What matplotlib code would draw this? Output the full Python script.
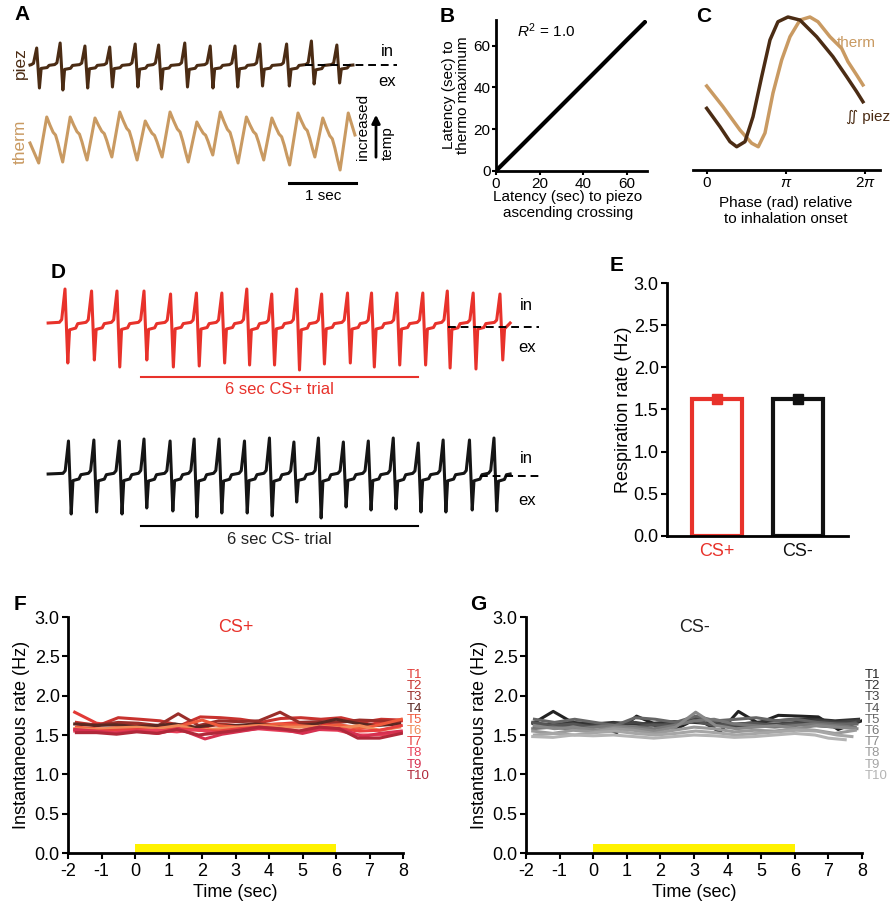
import numpy as np
import matplotlib
matplotlib.use("Agg")
import matplotlib.pyplot as plt
from matplotlib.patches import FancyArrowPatch

plt.rcParams['font.family'] = ['Liberation Sans', 'DejaVu Sans']
plt.rcParams['axes.unicode_minus'] = False
plt.rcParams['mathtext.fontset'] = 'custom'
plt.rcParams['mathtext.rm'] = 'Liberation Sans'
plt.rcParams['mathtext.it'] = 'Liberation Sans:italic'

# ---- A: raw piezo / thermocouple traces (time in sec, amplitude arbitrary) ----
a_piez_peak_t = [0.10, 0.45, 0.82, 1.19, 1.57, 1.92, 2.31, 2.69, 3.06, 3.43, 3.83, 4.20, 4.58]
a_piez_peak = [17, 22, 19, 18, 21, 20, 22, 19, 19, 21, 21, 24, 20]
a_piez_trough = [-23, -25, -23, -22, -22, -24, -22, -23, -22, -21, -21, -19, -18]
a_therm_peak_t = [0.25, 0.60, 0.97, 1.34, 1.72, 2.09, 2.49, 2.84, 3.23, 3.61, 4.00, 4.37, 4.75]
a_therm_peak = [58, 58, 57, 63, 54, 63, 53, 63, 58, 57, 62, 57, 62]
a_therm_trough = [12, 13, 15, 18, 15, 18, 13, 20, 12, 15, 10, 18, 5]

# ---- B: latency regression ----
b_piezo_lat = [0.5, 12, 24, 36, 48, 60, 69]
b_thermo_lat = [0.6, 12.5, 25.0, 37.5, 50.0, 62.6, 71.9]

# ---- C: phase averaged waveforms ----
c_phase = [0.0, 0.527, 0.923, 1.188, 1.517, 1.834, 2.178, 2.507, 2.823, 3.219, 3.695, 4.356, 5.0, 5.544, 5.94, 6.19]
c_piez = [0.403, 0.283, 0.185, 0.152, 0.185, 0.348, 0.610, 0.850, 0.969, 1.0, 0.980, 0.871, 0.741, 0.610, 0.512, 0.446]
c_phase_th = [0.0, 0.645, 1.319, 1.782, 2.043, 2.309, 2.626, 2.97, 3.299, 3.695, 4.09, 4.408, 4.883, 5.346, 5.596, 5.94, 6.19]
c_therm = [0.549, 0.414, 0.261, 0.175, 0.152, 0.242, 0.503, 0.719, 0.871, 0.980, 1.0, 0.969, 0.871, 0.795, 0.708, 0.621, 0.556]

# ---- D: example CS+ / CS- piezo traces (time relative to CS onset) ----
d_plus_peak_t = [-1.645, -1.07, -0.52, 0.065, 0.64, 1.2, 1.75, 2.29, 2.83, 3.37, 3.91, 4.47, 4.99, 5.54, 6.1, 6.63, 7.19, 7.77]
d_plus_peak = [34, 32, 32, 32, 29, 30, 30, 34, 29, 34, 29, 30, 30, 30, 30, 32, 30, 29]
d_plus_trough = [-40, -37, -44, -37, -44, -43, -40, -42, -42, -47, -41, -40, -44, -42, -42, -45, -46, -37]
d_minus_peak_t = [-1.57, -1.02, -0.47, 0.065, 0.63, 1.15, 1.69, 2.24, 2.78, 3.31, 3.84, 4.38, 4.92, 5.46, 6.0, 6.54, 7.11, 7.64]
d_minus_peak = [33, 34, 33, 35, 33, 35, 35, 33, 36, 32, 36, 32, 33, 36, 31, 34, 34, 36]
d_minus_trough = [-40, -38, -40, -34, -37, -43, -39, -39, -42, -28, -44, -33, -36, -35, -38, -38, -36, -37]

# ---- E: mean respiration rate ----
e_labels = ['CS+', 'CS-']
e_rates = [1.63, 1.62]
e_sem = [0.03, 0.03]

# ---- F / G: instantaneous rate per trial ----
f_times = [
    [-1.8, -1.15, -0.55, 0.1, 0.7, 1.3, 1.9, 2.5, 3.1, 3.7, 4.3, 4.9, 5.5, 6.1, 6.7, 7.3, 7.95],
    [-1.75, -1.1, -0.5, 0.15, 0.75, 1.35, 1.95, 2.55, 3.15, 3.75, 4.35, 4.95, 5.55, 6.15, 6.75, 7.35, 7.95],
    [-1.7, -1.1, -0.5, 0.1, 0.7, 1.29, 1.9, 2.5, 3.1, 3.7, 4.33, 4.9, 5.5, 6.1, 6.7, 7.3, 7.9],
    [-1.8, -1.2, -0.6, 0.0, 0.6, 1.2, 1.8, 2.4, 3.0, 3.6, 4.2, 4.8, 5.4, 6.0, 6.6, 7.2, 7.9],
    [-1.75, -1.15, -0.55, 0.05, 0.65, 1.25, 2.0, 2.5, 3.1, 3.7, 4.3, 4.9, 5.5, 6.1, 6.7, 7.3, 7.95],
    [-1.8, -1.2, -0.6, 0.05, 0.65, 1.3, 1.9, 2.5, 3.1, 3.7, 4.3, 4.9, 5.5, 6.1, 6.7, 7.3, 7.9],
    [-1.75, -1.15, -0.5, 0.1, 0.7, 1.3, 1.9, 2.5, 3.1, 3.7, 4.3, 4.9, 5.5, 6.1, 6.7, 7.3, 7.95],
    [-1.8, -1.2, -0.6, 0.0, 0.65, 1.25, 1.85, 2.45, 3.05, 3.65, 4.25, 4.85, 5.45, 6.05, 6.65, 7.3, 7.95],
    [-1.8, -1.2, -0.6, 0.05, 0.7, 1.3, 2.09, 2.6, 3.2, 3.8, 4.4, 5.0, 5.6, 6.2, 6.8, 7.3, 7.95],
    [-1.75, -1.15, -0.55, 0.05, 0.65, 1.25, 1.9, 2.5, 3.1, 3.7, 4.3, 4.9, 5.5, 6.1, 6.65, 7.3, 7.95],
]
f_rates = [
    [1.79, 1.65, 1.62, 1.63, 1.60, 1.63, 1.58, 1.64, 1.62, 1.63, 1.64, 1.66, 1.65, 1.62, 1.60, 1.66, 1.68],
    [1.66, 1.62, 1.72, 1.70, 1.68, 1.62, 1.73, 1.72, 1.70, 1.66, 1.71, 1.72, 1.70, 1.72, 1.66, 1.70, 1.69],
    [1.64, 1.63, 1.66, 1.65, 1.62, 1.77, 1.62, 1.68, 1.67, 1.68, 1.79, 1.66, 1.67, 1.66, 1.69, 1.68, 1.67],
    [1.64, 1.62, 1.63, 1.61, 1.62, 1.64, 1.60, 1.63, 1.62, 1.64, 1.63, 1.62, 1.64, 1.70, 1.65, 1.62, 1.64],
    [1.60, 1.58, 1.57, 1.59, 1.56, 1.60, 1.69, 1.62, 1.60, 1.62, 1.64, 1.62, 1.60, 1.63, 1.58, 1.63, 1.70],
    [1.58, 1.57, 1.59, 1.60, 1.58, 1.62, 1.56, 1.58, 1.60, 1.62, 1.60, 1.60, 1.61, 1.59, 1.62, 1.56, 1.60],
    [1.56, 1.55, 1.56, 1.57, 1.55, 1.58, 1.56, 1.55, 1.58, 1.60, 1.58, 1.55, 1.60, 1.58, 1.55, 1.56, 1.62],
    [1.55, 1.54, 1.53, 1.55, 1.56, 1.54, 1.57, 1.52, 1.55, 1.58, 1.56, 1.54, 1.57, 1.56, 1.50, 1.50, 1.53],
    [1.57, 1.55, 1.52, 1.55, 1.52, 1.58, 1.45, 1.51, 1.55, 1.59, 1.57, 1.52, 1.58, 1.57, 1.48, 1.52, 1.55],
    [1.53, 1.53, 1.51, 1.54, 1.52, 1.57, 1.50, 1.53, 1.56, 1.60, 1.58, 1.55, 1.60, 1.58, 1.46, 1.46, 1.52],
]
g_times = [
    [-1.78, -1.19, -0.54, 0.05, 0.70, 1.29, 1.89, 2.49, 3.08, 3.77, 4.32, 4.91, 5.51, 6.15, 6.70, 7.29, 7.99],
    [-1.8, -1.2, -0.6, 0.0, 0.6, 1.2, 1.8, 2.4, 3.0, 3.6, 4.2, 4.8, 5.4, 6.0, 6.6, 7.2, 7.9],
    [-1.75, -1.15, -0.55, 0.05, 0.65, 1.25, 1.85, 2.45, 3.05, 3.65, 4.25, 4.85, 5.45, 6.05, 6.65, 7.25, 7.9],
    [-1.8, -1.2, -0.6, 0.0, 0.6, 1.2, 1.8, 2.4, 3.0, 3.6, 4.2, 4.8, 5.4, 6.0, 6.6, 7.2, 7.8],
    [-1.75, -1.15, -0.55, 0.05, 0.65, 1.25, 1.85, 2.45, 3.05, 3.65, 4.25, 4.85, 5.45, 6.05, 6.65, 7.25, 7.85],
    [-1.8, -1.2, -0.6, 0.0, 0.6, 1.2, 1.8, 2.4, 3.0, 3.6, 4.2, 4.8, 5.4, 6.0, 6.6, 7.2, 7.8],
    [-1.75, -1.15, -0.55, 0.05, 0.65, 1.25, 1.85, 2.45, 3.05, 3.65, 4.25, 4.85, 5.45, 6.05, 6.65, 7.25, 7.85],
    [-1.8, -1.2, -0.6, 0.0, 0.6, 1.2, 1.8, 2.4, 3.0, 3.6, 4.2, 4.8, 5.4, 6.0, 6.6, 7.2, 7.8],
    [-1.75, -1.15, -0.55, 0.05, 0.65, 1.25, 1.85, 2.45, 3.05, 3.65, 4.25, 4.85, 5.45, 6.05, 6.65, 7.25, 7.7],
    [-1.8, -1.2, -0.6, 0.0, 0.6, 1.2, 1.8, 2.4, 3.0, 3.6, 4.2, 4.8, 5.4, 6.0, 6.6, 7.0, 7.5],
]
g_rates = [
    [1.65, 1.80, 1.64, 1.63, 1.53, 1.74, 1.63, 1.58, 1.71, 1.54, 1.80, 1.65, 1.75, 1.74, 1.73, 1.57, 1.68],
    [1.65, 1.63, 1.66, 1.64, 1.66, 1.64, 1.65, 1.67, 1.66, 1.64, 1.63, 1.66, 1.68, 1.70, 1.70, 1.68, 1.70],
    [1.60, 1.62, 1.60, 1.62, 1.64, 1.66, 1.62, 1.64, 1.72, 1.66, 1.60, 1.62, 1.64, 1.66, 1.68, 1.66, 1.68],
    [1.66, 1.62, 1.64, 1.60, 1.62, 1.60, 1.63, 1.62, 1.68, 1.62, 1.64, 1.65, 1.62, 1.64, 1.62, 1.60, 1.66],
    [1.70, 1.66, 1.70, 1.66, 1.62, 1.72, 1.70, 1.66, 1.74, 1.68, 1.70, 1.72, 1.68, 1.70, 1.66, 1.64, 1.64],
    [1.58, 1.60, 1.57, 1.60, 1.62, 1.60, 1.58, 1.62, 1.68, 1.70, 1.64, 1.62, 1.60, 1.62, 1.64, 1.62, 1.60],
    [1.62, 1.58, 1.60, 1.56, 1.60, 1.58, 1.55, 1.60, 1.79, 1.62, 1.58, 1.60, 1.62, 1.58, 1.62, 1.60, 1.58],
    [1.55, 1.52, 1.56, 1.54, 1.58, 1.56, 1.52, 1.56, 1.60, 1.58, 1.54, 1.56, 1.55, 1.58, 1.56, 1.52, 1.56],
    [1.50, 1.52, 1.50, 1.53, 1.55, 1.52, 1.50, 1.52, 1.55, 1.53, 1.50, 1.52, 1.54, 1.56, 1.55, 1.50, 1.48],
    [1.48, 1.47, 1.50, 1.49, 1.50, 1.48, 1.46, 1.48, 1.50, 1.49, 1.47, 1.48, 1.50, 1.52, 1.50, 1.46, 1.44],
]
trial_labels = ['T%d' % (i + 1) for i in range(10)]
f_colors = ['#e23a36', '#c8332f', '#9a2e2a', '#5a2822', '#ef5a3c', '#f08a58',
            '#e8403e', '#e8405a', '#d63050', '#b0283a']
g_colors = ['#222222', '#333333', '#444444', '#555555', '#666666', '#777777',
            '#888888', '#999999', '#a6a6a6', '#b4b4b4']

BROWN = '#4b2c14'
TAN = '#c99a62'
RED = '#e8322b'

W, H = 893, 905
fig = plt.figure(figsize=(W / 100, H / 100), dpi=100)


def axp(x0, y0, x1, y1):
    # axes from pixel box (top-left origin)
    return fig.add_axes([x0 / W, 1 - y1 / H, (x1 - x0) / W, (y1 - y0) / H])


def fp(x, y):
    return (x / W, 1 - y / H)


# cycle shape of the piezo signal (fraction of breath period, fraction of peak)
PRE = [(0.22, 0.02), (0.13, 0.10)]
POST = [(0.11, None), (0.18, -0.20), (0.42, -0.15), (0.50, -0.02)]


def piezo_trace(peak_t, peak_h, trough_v, t0, t1):
    period = np.median(np.diff(peak_t))
    ts, vs = [t0], [0.0]
    for tp, h, d in zip(peak_t, peak_h, trough_v):
        for f, r in PRE:
            t = tp - f * period
            if t > ts[-1]:
                ts.append(t); vs.append(r * h)
        ts.append(tp); vs.append(h)
        for f, r in POST:
            t = tp + f * period
            if t < t1:
                ts.append(t); vs.append(d if r is None else r * h)
    ts.append(t1); vs.append(0.0)
    return ts, vs


DECAY = [(0.2, 0.82), (0.4, 0.66), (0.55, 0.6), (0.7, 0.42), (0.85, 0.2)]


def therm_trace(peak_t, peak_v, trough_v, t0, v0, t1, v1):
    period = np.median(np.diff(peak_t))
    ts, vs = [t0, peak_t[0] - 0.32 * period], [v0, trough_v[0]]
    for i, tp in enumerate(peak_t):
        ts.append(tp); vs.append(peak_v[i])
        if i + 1 < len(peak_t):
            tt = tp + 0.68 * (peak_t[i + 1] - tp)
            top, bot = peak_v[i], trough_v[i + 1]
            for f, r in DECAY:
                ts.append(tp + f * (tt - tp)); vs.append(bot + r * (top - bot))
            ts.append(tt); vs.append(bot)
    ts.append(t1); vs.append(v1)
    return ts, vs


def panel_letter(x, y, s):
    fig.text(*fp(x, y), s, fontsize=15, fontweight='bold', ha='center', va='center')


# ------------------------- A -------------------------
axA1 = axp(20, 35, 400, 95)
axA1.set_xlim(-10 / 67, 370 / 67)
axA1.set_ylim(-30, 30)
axA1.axis('off')
t, v = piezo_trace(a_piez_peak_t, a_piez_peak, a_piez_trough, 0.0, 4.82)
axA1.plot(t, v, color=BROWN, lw=2.2)
axA1.plot([4.10, 5.48], [0, 0], '--', color='k', lw=1.4, dashes=(4, 2.5))
axA1.text(5.33, 13, 'in', fontsize=12, ha='center', va='center')
axA1.text(5.33, -16, 'ex', fontsize=12, ha='center', va='center')

axA2 = axp(20, 105, 400, 205)
axA2.set_xlim(-10 / 67, 370 / 67)
axA2.set_ylim(-30, 70)
axA2.axis('off')
t, v = therm_trace(a_therm_peak_t, a_therm_peak, a_therm_trough, 0.0, 32, 4.85, 40)
axA2.plot(t, v, color=TAN, lw=2.2)
axA2.plot([3.87, 4.87], [-8, -8], color='k', lw=2.2)
axA2.text(4.37, -21, '1 sec', fontsize=11, ha='center', va='center')

fig.text(*fp(20, 63), 'piez', color=BROWN, rotation=90, fontsize=12.5, ha='center', va='center')
fig.text(*fp(20, 142), 'therm', color=TAN, rotation=90, fontsize=12.5, ha='center', va='center')
fig.text(*fp(363, 160), 'increased', rotation=90, fontsize=11, ha='center', va='bottom')
fig.text(*fp(388, 160), 'temp', rotation=90, fontsize=11, ha='center', va='bottom')
fig.add_artist(FancyArrowPatch(fp(376, 160), fp(376, 112), transform=fig.transFigure,
                               arrowstyle='-|>', mutation_scale=12, lw=2, color='k'))
panel_letter(22, 15, 'A')

# ------------------------- B -------------------------
axB = axp(496, 20, 647, 171)
axB.plot(b_piezo_lat, b_thermo_lat, color='k', lw=3, solid_capstyle='butt')
axB.set_xlim(0, 69.3)
axB.set_ylim(0, 72.2)
axB.set_xticks([0, 20, 40, 60])
axB.set_yticks([0, 20, 40, 60])
for s in ['top', 'right']:
    axB.spines[s].set_visible(False)
for s in ['left', 'bottom']:
    axB.spines[s].set_linewidth(2)
axB.tick_params(direction='out', length=3, width=1.5, labelsize=11, pad=1)
axB.text(0.33, 0.93, r'$R^2$ = 1.0', transform=axB.transAxes, fontsize=11, ha='center', va='center')
fig.text(*fp(456, 95), 'Latency (sec) to\nthermo maximum', rotation=90, fontsize=11,
         ha='center', va='center', linespacing=1.05)
fig.text(*fp(568, 205), 'Latency (sec) to piezo\nascending crossing', fontsize=11,
         ha='center', va='center', linespacing=1.15)
panel_letter(447, 17, 'B')

# ------------------------- C -------------------------
ppr = 79.3 / np.pi
axC = axp(693, 10, 880, 170)
axC.plot(c_phase_th, c_therm, color=TAN, lw=2.5)
axC.plot(c_phase, c_piez, color=BROWN, lw=2.5)
axC.set_xlim((693 - 706.7) / ppr, (880 - 706.7) / ppr)
axC.set_ylim(0, 160 / 153)
for s in ['top', 'right', 'left']:
    axC.spines[s].set_visible(False)
axC.spines['bottom'].set_linewidth(2)
axC.set_yticks([])
axC.set_xticks([0, np.pi, 2 * np.pi])
axC.set_xticklabels(['0', r'$\pi$', r'2$\pi$'])
axC.tick_params(direction='out', length=3, width=1.5, labelsize=11, pad=1)
fig.text(*fp(786, 211), 'Phase (rad) relative\nto inhalation onset', fontsize=11,
         ha='center', va='center', linespacing=1.15)
fig.text(*fp(856, 43), 'therm', color=TAN, fontsize=11, ha='center', va='center')
fig.text(*fp(868, 117), '\u222c piez', color=BROWN, fontsize=11, ha='center', va='center')
panel_letter(704, 17, 'C')

# ------------------------- D -------------------------
dx0, dx1 = (40 - 141) / 46.2, (560 - 141) / 46.2
axD1 = axp(40, 280, 560, 400)
axD1.set_xlim(dx0, dx1)
axD1.set_ylim(-77, 43)
axD1.axis('off')
t, v = piezo_trace(d_plus_peak_t, d_plus_peak, d_plus_trough, -2.01, 7.99)
axD1.plot(t, v, color=RED, lw=2.2)
axD1.plot([0, 6], [-54, -54], color=RED, lw=1.5)
axD1.text(3, -67, '6 sec CS+ trial', color=RED, fontsize=12, ha='center', va='center')
axD1.plot([6.65, 8.62], [-4, -4], '--', color='k', lw=1.4, dashes=(4, 2.5))
axD1.text(8.35, 18, 'in', fontsize=12, ha='center', va='center')
axD1.text(8.35, -25, 'ex', fontsize=12, ha='center', va='center')

axD2 = axp(40, 430, 560, 550)
axD2.set_xlim(dx0, dx1)
axD2.set_ylim(-76, 44)
axD2.axis('off')
t, v = piezo_trace(d_minus_peak_t, d_minus_peak, d_minus_trough, -2.01, 7.99)
axD2.plot(t, v, color='#151515', lw=2.2)
axD2.plot([0, 6], [-52, -52], color='k', lw=1.5)
axD2.text(3, -65, '6 sec CS- trial', color='#222222', fontsize=12, ha='center', va='center')
axD2.plot([7.34, 8.62], [-2, -2], '--', color='k', lw=1.4, dashes=(4, 2.5))
axD2.text(8.35, 16, 'in', fontsize=12, ha='center', va='center')
axD2.text(8.35, -26, 'ex', fontsize=12, ha='center', va='center')
panel_letter(58, 272, 'D')


def style_axes(ax):
    for s in ['top', 'right']:
        ax.spines[s].set_visible(False)
    for s in ['left', 'bottom']:
        ax.spines[s].set_linewidth(2)
    ax.tick_params(direction='out', length=4, width=1.5, labelsize=13, pad=2)


# ------------------------- E -------------------------
axE = axp(667, 283, 848, 536)
e_cols = [RED, '#111111']
xs = np.arange(len(e_labels))
axE.bar(xs, e_rates, width=0.62, fill=False, edgecolor=e_cols, linewidth=3)
for x, r, s, c in zip(xs, e_rates, e_sem, e_cols):
    axE.errorbar(x, r, yerr=s, fmt='s', ms=6.5, color=c, elinewidth=2.5, capsize=0)
axE.set_xlim(-0.62, 1.62)
axE.set_ylim(0, 3.0)
axE.set_yticks(np.arange(0, 3.01, 0.5))
axE.set_xticks(xs)
axE.set_xticklabels(e_labels)
style_axes(axE)
axE.tick_params(axis='x', length=0, pad=5)
for lab, c in zip(axE.get_xticklabels(), e_cols):
    lab.set_color(c)
fig.text(*fp(623, 410), 'Respiration rate (Hz)', rotation=90, fontsize=13, ha='center', va='center')
panel_letter(617, 265, 'E')


# ------------------------- F / G -------------------------
def rate_panel(ax, times, rates, colors, title, title_color, lab_x, ylab_x):
    ax.bar(3, 0.12, width=6, bottom=0, color='#fff200', edgecolor='none', zorder=1)
    for tt, rr, c in zip(times, rates, colors):
        ax.plot(tt, rr, color=c, lw=2.2, zorder=2)
    ax.set_xlim(-2, 8)
    ax.set_ylim(0, 3.0)
    ax.set_xticks(range(-2, 9))
    ax.set_yticks(np.arange(0, 3.01, 0.5))
    style_axes(ax)
    ax.tick_params(axis='x', pad=3)
    ax.text(0.5, 0.955, title, transform=ax.transAxes, color=title_color, fontsize=13,
            ha='center', va='center')
    x_mid = (ax.get_position().x0 + ax.get_position().x1) / 2
    fig.text(x_mid, fp(0, 892)[1], 'Time (sec)', fontsize=13, ha='center', va='center')
    fig.text(*fp(ylab_x, 735), 'Instantaneous rate (Hz)', rotation=90, fontsize=13,
             ha='center', va='center')
    for i, (lab, c) in enumerate(zip(trial_labels, colors)):
        fig.text(*fp(lab_x, 675 + i * 11.2), lab, color=c, fontsize=9.5, ha='left', va='center')


axF = axp(68, 617, 403, 853)
rate_panel(axF, f_times, f_rates, f_colors, 'CS+', RED, 407, 22)
panel_letter(20, 604, 'F')

axG = axp(526, 617, 862, 853)
rate_panel(axG, g_times, g_rates, g_colors, 'CS-', '#222222', 865, 480)
panel_letter(478, 604, 'G')

fig.savefig('out.png', dpi=100)
